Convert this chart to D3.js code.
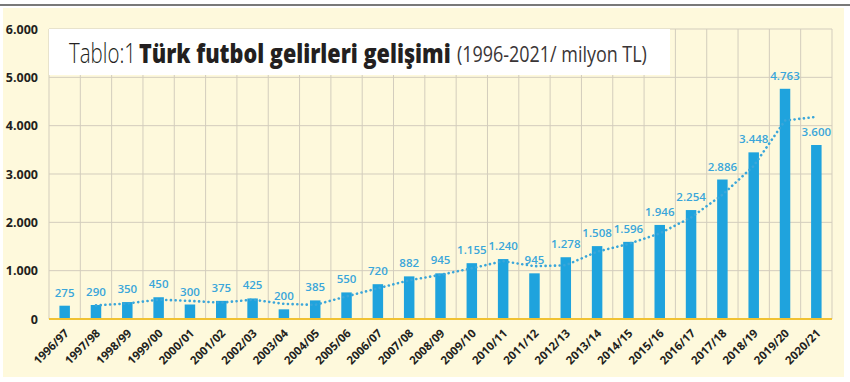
<!DOCTYPE html>
<html>
<head>
<meta charset="utf-8">
<script src="https://cdn.jsdelivr.net/npm/d3@7"></script>
<style>
  body { margin: 0; background: #fff; }
  svg { display: block; font-family: "Open Sans", sans-serif; }
</style>
</head>
<body>
<div id="chart"></div>
<script>
// seasons and revenue (million TL)
var seasons = ["1996/97", "1997/98", "1998/99", "1999/00", "2000/01", "2001/02", "2002/03", "2003/04",
    "2004/05", "2005/06", "2006/07", "2007/08", "2008/09", "2009/10", "2010/11", "2011/12", "2012/13",
    "2013/14", "2014/15", "2015/16", "2016/17", "2017/18", "2018/19", "2019/20", "2020/21"];
var revenue = [275, 290, 350, 450, 300, 375, 425, 200, 385, 550, 720, 882, 945, 1155, 1240, 945, 1278,
    1508, 1596, 1946, 2254, 2886, 3448, 4763, 3600];
// dotted trend line, starts at the second season
var trendSeasons = seasons.slice(1);
var trend = [282.5, 320, 400, 375, 337.5, 400, 312.5, 292.5, 467.5, 635, 801, 913.5, 1050, 1197.5,
    1092.5, 1111.5, 1393, 1552, 1771, 2100, 2570, 3167, 4105.5, 4181.5];
var yTicks = [0, 1000, 2000, 3000, 4000, 5000, 6000];

var width = 850, height = 382;
var margin = {top: 29, right: 18, bottom: 63, left: 49};

var svg = d3.select("#chart").append("svg").attr("width", width).attr("height", height);

// top rule and cream panel
svg.append("line").attr("x1", 0).attr("x2", width).attr("y1", 5).attr("y2", 5)
    .attr("stroke", "#4d4d4d").attr("stroke-width", 1.5);
svg.append("rect").attr("x", 3).attr("y", 8).attr("width", 841).attr("height", 369).attr("fill", "#fef9dc");

var x = d3.scaleBand().domain(seasons)
    .range([margin.left, width - margin.right])
    .paddingInner(0.665).paddingOuter(0.3325);
var step = x.step();
var y = d3.scaleLinear().domain([0, 6000]).range([height - margin.bottom, margin.top]);

var fmt = function(d) { return d3.format(",")(d).replace(/,/g, "."); };

// grid
var grid = svg.append("g").attr("stroke", "#d3cdbd").attr("stroke-width", 1);
grid.selectAll("line.h").data(yTicks.slice(1)).enter().append("line")
    .attr("x1", margin.left).attr("x2", width - margin.right)
    .attr("y1", function(d) { return y(d); }).attr("y2", function(d) { return y(d); });
grid.selectAll("line.v").data(d3.range(seasons.length + 1)).enter().append("line")
    .attr("x1", function(i) { return margin.left + i * step; })
    .attr("x2", function(i) { return margin.left + i * step; })
    .attr("y1", y(6000)).attr("y2", y(0));

// title box, narrow type squeezed horizontally
svg.append("rect").attr("x", margin.left).attr("y", 29).attr("width", 621).attr("height", 46).attr("fill", "#fff");
function titlePart(str, x0, y0, size, weight, color, w) {
    var t = svg.append("text").attr("font-size", size).attr("font-weight", weight)
        .attr("fill", color).text(str);
    var k = w / t.node().getComputedTextLength();
    t.attr("transform", "translate(" + x0 + "," + y0 + ") scale(" + k + ",1)");
}
titlePart("Tablo:1", 69, 63, 27, 300, "#231f20", 67);
titlePart("Türk futbol gelirleri gelişimi", 139, 63, 27, 800, "#231f20", 312);
titlePart("(1996-2021/ milyon TL)", 457, 62, 21, 400, "#3a3536", 190);

// y axis
var yAxis = svg.append("g").attr("transform", "translate(38,0)")
    .call(d3.axisLeft(y).tickValues(yTicks).tickFormat(fmt).tickSize(0).tickPadding(0));
yAxis.select(".domain").remove();
yAxis.selectAll("text").attr("font-family", "Open Sans").attr("font-size", 12.5)
    .attr("font-weight", 700).attr("fill", "#231f20");

// bars
svg.append("g").selectAll("rect").data(revenue).enter().append("rect")
    .attr("x", function(d, i) { return x(seasons[i]); })
    .attr("y", function(d) { return y(d); })
    .attr("width", x.bandwidth())
    .attr("height", function(d) { return y(0) - y(d); })
    .attr("fill", "#1fa3dd");

// baseline
svg.append("line").attr("x1", margin.left).attr("x2", width - margin.right)
    .attr("y1", y(0)).attr("y2", y(0)).attr("stroke", "#f1c232").attr("stroke-width", 2);

// trend
var line = d3.line()
    .x(function(d, i) { return x(trendSeasons[i]) + x.bandwidth() / 2; })
    .y(function(d) { return y(d); });
svg.append("path").datum(trend)
    .attr("fill", "none").attr("stroke", "#3aa6da").attr("stroke-width", 2.6)
    .attr("stroke-linecap", "round").attr("stroke-dasharray", "0.1 4.6")
    .attr("d", line);

// value labels
svg.append("g").selectAll("text").data(revenue).enter().append("text")
    .attr("x", function(d, i) { return x(seasons[i]) + x.bandwidth() / 2; })
    .attr("y", function(d) { return y(d) - 9; })
    .attr("text-anchor", "middle").attr("font-size", 11.5).attr("font-weight", 600)
    .attr("fill", "#3aa6da")
    .text(fmt);

// x axis
var xAxis = svg.append("g").attr("transform", "translate(0," + y(0) + ")")
    .call(d3.axisBottom(x).tickSize(0));
xAxis.select(".domain").remove();
xAxis.selectAll("text")
    .attr("font-family", "Open Sans").attr("font-size", 11.5).attr("font-weight", 700)
    .attr("fill", "#231f20")
    .attr("text-anchor", "end")
    .attr("x", 5).attr("y", 15).attr("dy", 0)
    .attr("transform", "rotate(-45, 5, 15)");
</script>
</body>
</html>
